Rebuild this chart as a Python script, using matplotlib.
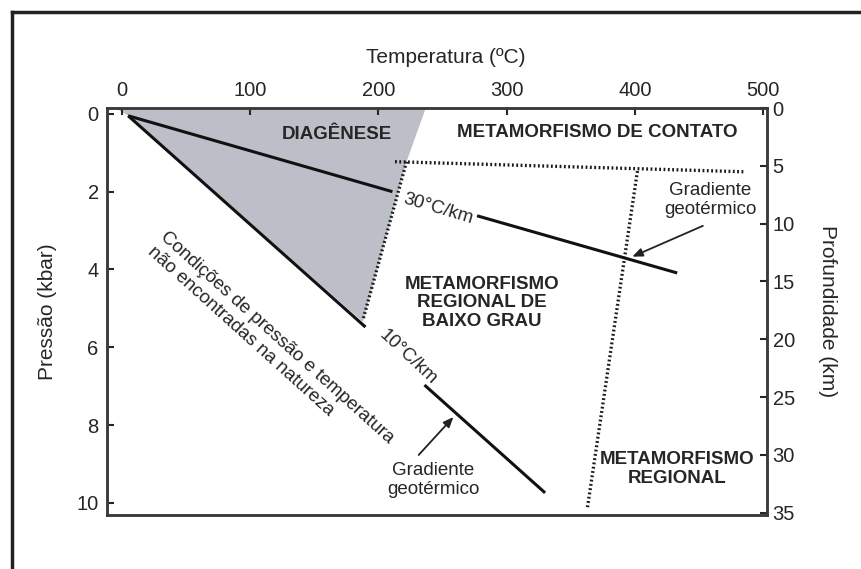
import matplotlib
matplotlib.use("Agg")
import matplotlib.pyplot as plt
from matplotlib.lines import Line2D

plt.rcParams['font.family'] = ['Liberation Sans', 'DejaVu Sans']

# diagenesis field (T in C, P in kbar)
diag_T = [-5, 237, 222, 188, 5]
diag_P = [-0.15, -0.15, 1.23, 5.35, 0.05]

# 30 C/km geotherm (two pieces, gap for its label)
g30_T = [[5, 211], [277, 433]]
g30_P = [[0.05, 2.0], [2.62, 4.09]]

# 10 C/km geotherm
g10_T = [[5, 190], [236, 330]]
g10_P = [[0.05, 5.48], [6.97, 9.74]]

# dotted boundaries
bnd_h_T, bnd_h_P = [213, 486], [1.23, 1.49]
bnd_v1_T, bnd_v1_P = [222, 188], [1.23, 5.3]
bnd_v2_T, bnd_v2_P = [402, 363], [1.47, 10.13]

t_ticks = [0, 100, 200, 300, 400, 500]
p_ticks = [0, 2, 4, 6, 8, 10]
z_ticks = [0, 5, 10, 15, 20, 25, 30, 35]

ink = '#262626'
fig = plt.figure(figsize=(8.61, 5.69), dpi=100)
ax = fig.add_axes([107/861, 1-515/569, 660/861, 407/569])

ax.fill(diag_T, diag_P, color='#bdbfc8', lw=0, zorder=1)
for t, p in zip(g30_T, g30_P):
    ax.plot(t, p, color='#111111', lw=2.2, solid_capstyle='butt', zorder=3)
for t, p in zip(g10_T, g10_P):
    ax.plot(t, p, color='#111111', lw=2.2, solid_capstyle='butt', zorder=3)
for t, p in [(bnd_h_T, bnd_h_P), (bnd_v1_T, bnd_v1_P), (bnd_v2_T, bnd_v2_P)]:
    ax.plot(t, p, color='#1a1a1a', lw=2.4, ls=(0, (0.55, 0.75)), zorder=2)

ax.set_xlim(-11.5, 503)
ax.set_ylim(10.31, -0.15)
ax.xaxis.tick_top()
ax.xaxis.set_label_position('top')
ax.set_xticks(t_ticks)
ax.set_yticks(p_ticks)
ax.set_xlabel('Temperatura (ºC)', fontsize=15, color=ink)
ax.xaxis.set_label_coords(0.514, 1.11)
ax.set_ylabel('Pressão (kbar)', fontsize=15, color=ink, labelpad=14)
ax.tick_params(direction='in', length=5, width=1.5, labelsize=14.5,
               colors=ink, pad=6)
for s in ax.spines.values():
    s.set_linewidth(1.8)
    s.set_color('#3a3a3a')

ax2 = ax.twinx()
ax2.set_ylim(35.2, 0)
ax2.set_yticks(z_ticks)
ax2.tick_params(direction='in', length=5, width=1.5, labelsize=14.5,
                colors=ink, pad=4)
ax2.set_ylabel('Profundidade (km)', fontsize=15, color=ink, rotation=-90,
               labelpad=30)
for s in ax2.spines.values():
    s.set_linewidth(1.8)
    s.set_color('#3a3a3a')

fs = 13.5
caps = dict(fontsize=fs, color=ink, ha='center', va='center', weight='bold', zorder=4)
ax.text(168, 0.54, 'DIAGÊNESE', **caps)
ax.text(371, 0.49, 'METAMORFISMO DE CONTATO', **caps)
ax.text(281, 4.86, 'METAMORFISMO\nREGIONAL DE\nBAIXO GRAU', linespacing=1.1, **caps)
ax.text(433, 9.13, 'METAMORFISMO\nREGIONAL', linespacing=1.1, **caps)

ax.text(459, 2.21, 'Gradiente\ngeotérmico', fontsize=fs, color=ink, ha='center', va='center', zorder=4)
ax.text(247, 2.44, '30°C/km', fontsize=fs, color=ink, ha='center', va='center',
        rotation=-16.5, rotation_mode='anchor', zorder=4)
ax.text(116, 5.94, 'Condições de pressão e temperatura\nnão encontradas na natureza',
        fontsize=fs, color=ink, ha='center', va='center', multialignment='left',
        rotation=-42, rotation_mode='anchor', zorder=4)
ax.text(223, 6.25, '10°C/km', fontsize=fs, color=ink, ha='center', va='center',
        rotation=-43, rotation_mode='anchor', zorder=4)
ax.text(243, 9.41, 'Gradiente\ngeotérmico', fontsize=fs, color=ink, ha='center', va='center', zorder=4)

arrow = dict(arrowstyle='-|>,head_length=0.6,head_width=0.25', color='#222222', lw=1.3)
ax.annotate('', xy=(396, 3.70), xytext=(455, 2.85), arrowprops=arrow, zorder=4)
ax.annotate('', xy=(260, 7.74), xytext=(230, 8.82), arrowprops=arrow, zorder=4)

# cropped outer frame of the original figure
fig.add_artist(Line2D([12/861, 1], [1-12/569, 1-12/569], color='#222222', lw=2.5))
fig.add_artist(Line2D([12/861, 12/861], [0, 1-12/569], color='#222222', lw=2.5))

fig.savefig('out.png', dpi=100)
